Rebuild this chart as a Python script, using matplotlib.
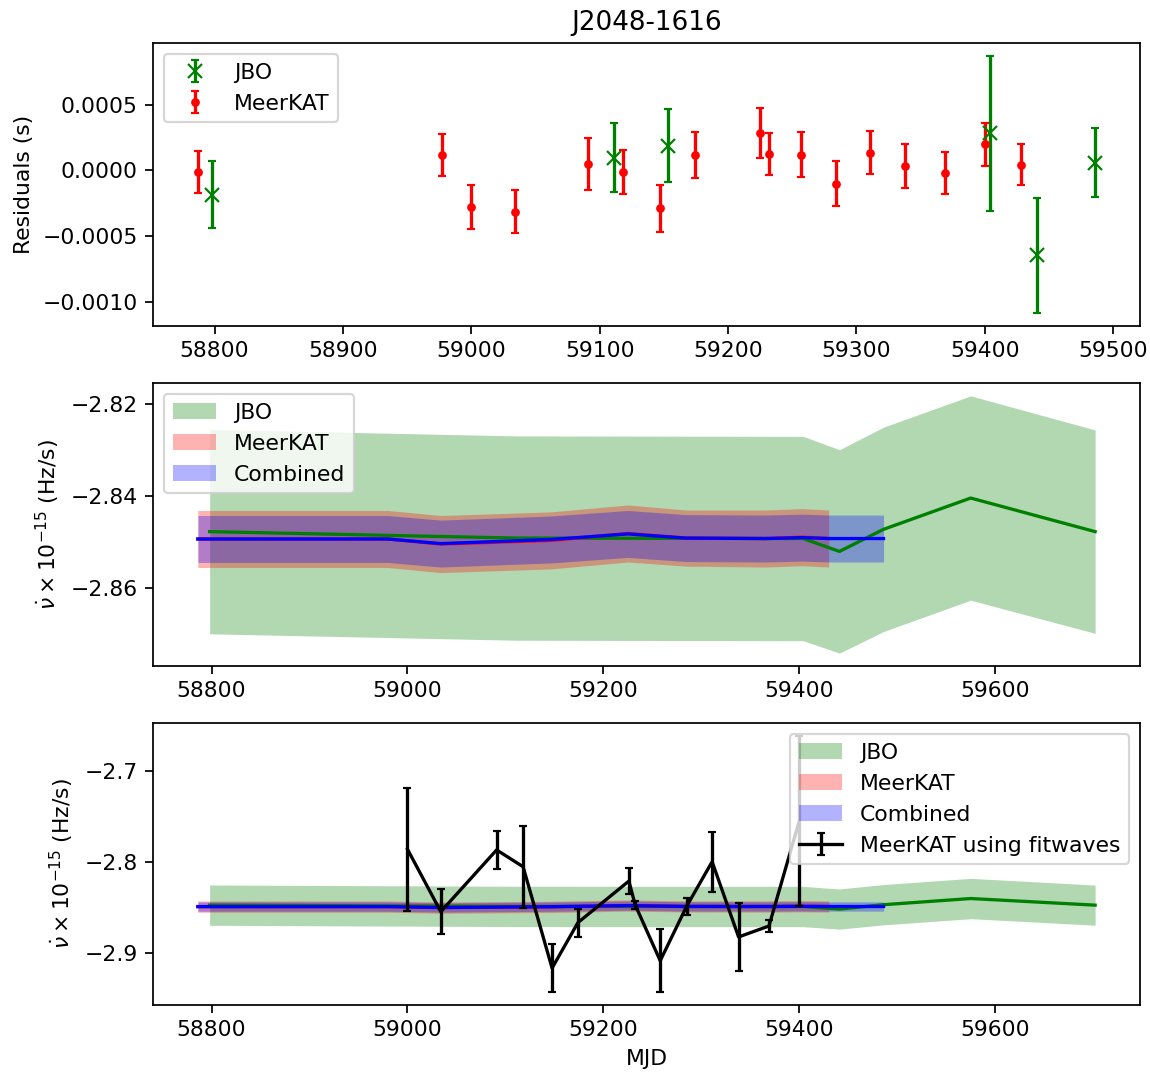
import matplotlib
matplotlib.use("Agg")
import matplotlib.pyplot as plt
import numpy as np

# ---- Residuals (top panel) ----
mk_mjd = [58787, 58977, 59000, 59034, 59091, 59118, 59147, 59174, 59225, 59232,
          59257, 59284, 59311, 59338, 59369, 59400, 59428]
mk_res = [-0.000013, 0.000114, -0.000279, -0.000314, 0.000048, -0.000013, -0.000289,
          0.000114, 0.000282, 0.000127, 0.000119, -0.000101, 0.000135, 0.0000355,
          -0.00002, 0.000198, 0.0000434]
mk_err = [0.000159, 0.00016, 0.000166, 0.000164, 0.0002, 0.000168, 0.000177, 0.000175,
          0.00019, 0.00016, 0.000173, 0.00017, 0.000166, 0.000169, 0.000162, 0.000164,
          0.000157]

jbo_mjd = [58798, 59111, 59153, 59404, 59441, 59486]
jbo_res = [-0.000185, 0.0000967, 0.000188, 0.000282, -0.000647, 0.0000586]
jbo_err = [0.000255, 0.000265, 0.00028, 0.00059, 0.00044, 0.000263]

# ---- Spin-down (middle & bottom panels), units of 1e-15 Hz/s ----
jbo_ep = [58798, 59111, 59404, 59441, 59486, 59575, 59702]
jbo_nudot = [-2.8478, -2.8492, -2.8493, -2.8521, -2.8473, -2.8405, -2.8478]
jbo_nudot_err = [0.0222, 0.0222, 0.0222, 0.0221, 0.0222, 0.0222, 0.0221]

mk_ep = [58786, 58980, 59034, 59147, 59225, 59284, 59366, 59403, 59430]
mk_nudot = [-2.8494, -2.8494, -2.8505, -2.8497, -2.8482, -2.8492, -2.8493, -2.8490, -2.8493]
mk_nudot_err = [0.0062, 0.0062, 0.0062, 0.0062, 0.0062, 0.0061, 0.0062, 0.0062, 0.0062]

comb_ep = [58786, 58980, 59034, 59147, 59225, 59284, 59366, 59403, 59430, 59486]
comb_nudot = [-2.8494, -2.8494, -2.8504, -2.8495, -2.8483, -2.8492, -2.8493, -2.8491,
              -2.8493, -2.8493]
comb_nudot_err = [0.0051, 0.0051, 0.0051, 0.0051, 0.0051, 0.0051, 0.0051, 0.0051,
                  0.0051, 0.0051]

fw_mjd = [59000, 59034, 59091, 59118, 59147.6, 59174, 59226, 59232.5, 59258, 59285,
          59311, 59338, 59369, 59400]
fw_nudot = [-2.7863, -2.855, -2.787, -2.8055, -2.9171, -2.867, -2.8213, -2.8476,
            -2.909, -2.849, -2.800, -2.8828, -2.8708, -2.755]
fw_err = [0.068, 0.025, 0.0212, 0.045, 0.0265, 0.0155, 0.0142, 0.0042, 0.0345,
          0.0092, 0.0331, 0.0374, 0.0065, 0.0936]

DPI = 157.5
W, H = 1150, 1074
fig = plt.figure(figsize=(W / DPI, H / DPI), dpi=DPI)

def axpos(top, bottom, left=153, right=1140):
    return [left / W, 1 - bottom / H, (right - left) / W, (bottom - top) / H]

ax1 = fig.add_axes(axpos(43, 326))
ax2 = fig.add_axes(axpos(383, 666))
ax3 = fig.add_axes(axpos(723, 1005))

# Top panel
ax1.errorbar(jbo_mjd, jbo_res, yerr=jbo_err, fmt='x', color='g', capsize=2, label='JBO')
ax1.errorbar(mk_mjd, mk_res, yerr=mk_err, fmt='.', color='r', capsize=2, label='MeerKAT')
ax1.set_ylabel('Residuals (s)')
ax1.set_title('J2048-1616')
ax1.legend(loc='upper left')

def draw_bands(ax):
    je = np.array(jbo_nudot_err); jv = np.array(jbo_nudot)
    me = np.array(mk_nudot_err); mv = np.array(mk_nudot)
    ce = np.array(comb_nudot_err); cv = np.array(comb_nudot)
    ax.fill_between(jbo_ep, jv - je, jv + je, color='g', alpha=0.3, linewidth=0, label='JBO')
    ax.fill_between(mk_ep, mv - me, mv + me, color='r', alpha=0.3, linewidth=0, label='MeerKAT')
    ax.fill_between(comb_ep, cv - ce, cv + ce, color='b', alpha=0.3, linewidth=0, label='Combined')
    ax.plot(jbo_ep, jbo_nudot, color='g')
    ax.plot(mk_ep, mk_nudot, color='r')
    ax.plot(comb_ep, comb_nudot, color='b')

ylab = r'$\dot{\nu} \times 10^{-15}$ (Hz/s)'
draw_bands(ax2)
ax2.set_ylabel(ylab)
ax2.legend(loc='upper left')

draw_bands(ax3)
ax3.errorbar(fw_mjd, fw_nudot, yerr=fw_err, fmt='-', color='k', capsize=2,
             label='MeerKAT using fitwaves')
ax3.set_ylabel(ylab)
ax3.set_xlabel('MJD')
ax3.legend(loc='upper right')

fig.savefig('out.png', dpi=DPI)
